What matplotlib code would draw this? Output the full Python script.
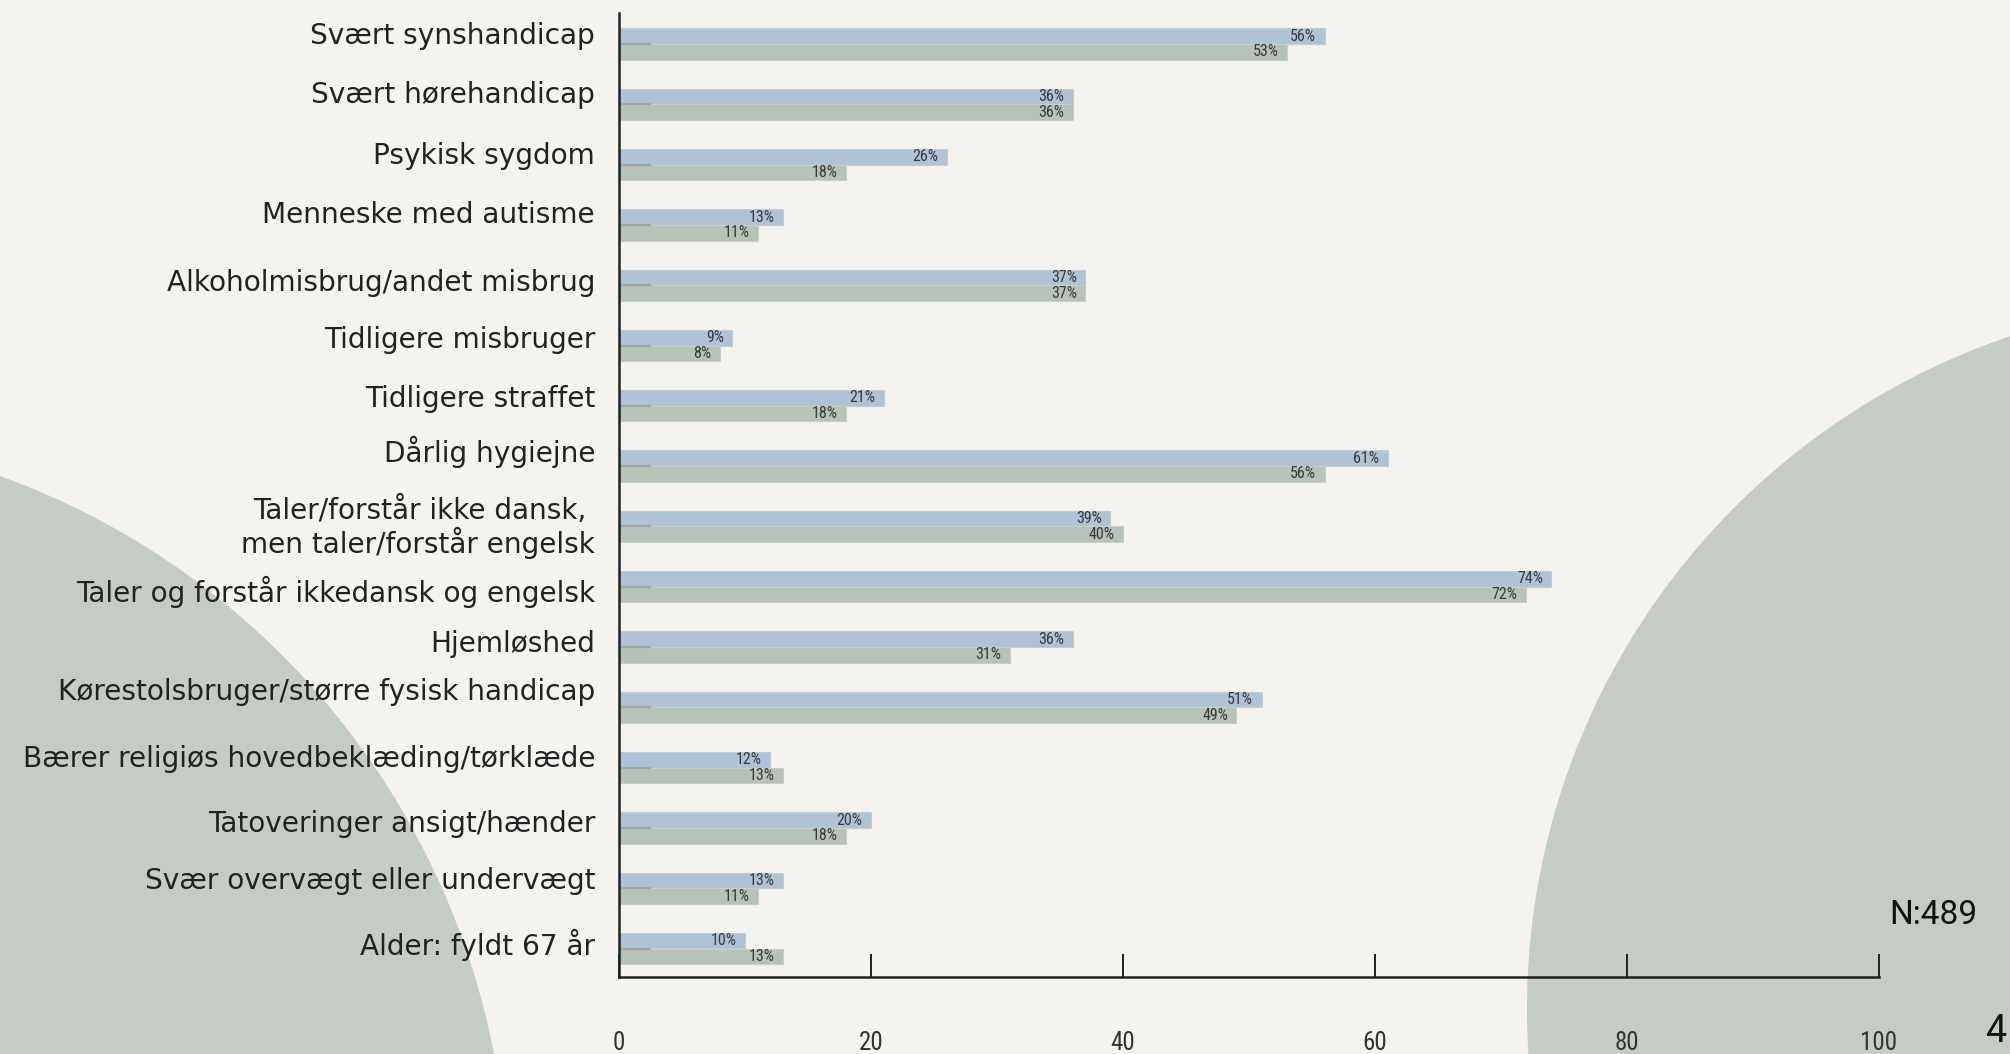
import matplotlib
matplotlib.use("Agg")
import matplotlib.pyplot as plt
import matplotlib.transforms as mtransforms
from matplotlib import font_manager
from matplotlib.patches import Circle

# survey answers, one row per group (blue = first series, green = second series)
categories = [
    "Svært synshandicap",
    "Svært hørehandicap",
    "Psykisk sygdom",
    "Menneske med autisme",
    "Alkoholmisbrug/andet misbrug",
    "Tidligere misbruger",
    "Tidligere straffet",
    "Dårlig hygiejne",
    "Taler/forstår ikke dansk, \nmen taler/forstår engelsk",
    "Taler og forstår ikkedansk og engelsk",
    "Hjemløshed",
    "Kørestolsbruger/større fysisk handicap",
    "Bærer religiøs hovedbeklæding/tørklæde",
    "Tatoveringer ansigt/hænder",
    "Svær overvægt eller undervægt",
    "Alder: fyldt 67 år",
]
blue_vals = [56, 36, 26, 13, 37, 9, 21, 61, 39, 74, 36, 51, 12, 20, 13, 10]
green_vals = [53, 36, 18, 11, 37, 8, 18, 56, 40, 72, 31, 49, 13, 18, 11, 13]
x_ticks = [0, 20, 40, 60, 80, 100]
sample_note = "N:489"
page_no = "4"

# vertical nudge of each category label in pixels (positive = up)
label_nudge = [8, 9, 9, 10, 2, 6, 7, 14, -1, -5, 3, 15, 9, 4, 7, 4]

BG = "#f4f3ef"
BLOB = "#c5ccc4"
BLUE = "#afc3d6"
GREEN = "#b7c2b8"
INK = "#222222"

# pick a narrow face for the numbers if one is installed
installed = font_manager.fontManager.ttflist
names = {f.name for f in installed}
narrow = None
for cand in ["Liberation Sans Narrow", "DejaVu Sans Condensed", "Roboto Condensed",
             "Open Sans Condensed", "Noto Sans Condensed"]:
    if cand in names:
        narrow = cand
        break
if narrow is None:
    cond = [f.name for f in installed if f.stretch in ("condensed", "semi-condensed")
            or "Condensed" in f.name or "Narrow" in f.name]
    narrow = cond[0] if cond else "DejaVu Sans"
num_font = dict(family=narrow, stretch="condensed")

W, H, DPI = 2010, 1054, 100
fig = plt.figure(figsize=(W / DPI, H / DPI), dpi=DPI, facecolor=BG)

# decorative round shapes behind the chart, in pixel units
bg = fig.add_axes([0, 0, 1, 1], zorder=0)
bg.set_xlim(0, W)
bg.set_ylim(H, 0)
bg.axis("off")
bg.add_patch(Circle((-262, 1200), 770, color=BLOB, lw=0))
bg.add_patch(Circle((2237, 1009), 710, color=BLOB, lw=0))

ax = fig.add_axes([619 / W, 1 - 977 / H, 1260 / W, 964 / H], zorder=1)
ax.set_facecolor("none")

n = len(categories)
ypos = list(range(n))
h = 0.26
y_blue = [y - h / 2 for y in ypos]
y_green = [y + h / 2 for y in ypos]

ax.barh(y_blue, blue_vals, height=h, color=BLUE, edgecolor="#c4ccd2", linewidth=0.8)
ax.barh(y_green, green_vals, height=h, color=GREEN, edgecolor="#c9cfc8", linewidth=0.8)
ax.hlines(ypos, 0, 2.5, color="#9ea6a8", lw=1.6)

for y, v in zip(y_blue, blue_vals):
    ax.annotate(f"{v}%", (v, y), xytext=(-6, 0), textcoords="offset points",
                ha="right", va="center", fontsize=11.5, color="#3a3a3a", **num_font)
for y, v in zip(y_green, green_vals):
    ax.annotate(f"{v}%", (v, y), xytext=(-6, 0), textcoords="offset points",
                ha="right", va="center", fontsize=11.5, color="#3a3a3a", **num_font)

ax.set_xlim(0, 100)
ax.set_ylim((977 - 44) / 60.3, (13 - 44) / 60.3)

# category labels drawn as text so each can be nudged separately
base = mtransforms.blended_transform_factory(ax.transAxes, ax.transData)
for y, lab, dy in zip(ypos, categories, label_nudge):
    tr = base + mtransforms.ScaledTranslation(-24 / DPI, dy / DPI, fig.dpi_scale_trans)
    ax.text(0, y, lab, transform=tr, ha="right", va="center", fontsize=20.2,
            family="DejaVu Sans", color=INK, linespacing=1.1)

ax.set_yticks([])
ax.set_xticks(x_ticks)
ax.set_xticklabels([str(t) for t in x_ticks], fontsize=18, color="#333333", **num_font)
ax.tick_params(axis="x", direction="in", length=16.5, width=1.4, color=INK, pad=39)
for side in ("top", "right"):
    ax.spines[side].set_visible(False)
for side in ("left", "bottom"):
    ax.spines[side].set_linewidth(1.8)
    ax.spines[side].set_color(INK)

fig.text(1933 / W, 1 - 915 / H, sample_note, ha="center", va="center",
         fontsize=24, family="Roboto", color="#111111")
fig.text(1985 / W, 1 - 1042 / H, page_no, ha="left", va="baseline",
         fontsize=27, family="Roboto", color="#111111")

fig.savefig("out.png", dpi=DPI, facecolor=BG)
